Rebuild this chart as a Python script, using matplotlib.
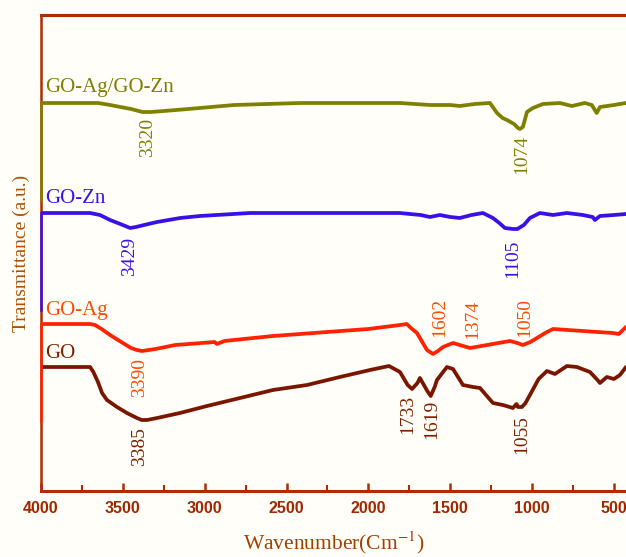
import matplotlib
matplotlib.use("Agg")
import matplotlib.pyplot as plt
from matplotlib.ticker import MultipleLocator

# ---- data (wavenumber cm^-1, transmittance a.u. with vertical offsets) ----
go_wn = [4000, 3760, 3700, 3680, 3652, 3627, 3597, 3536, 3475, 3414, 3385, 3352, 3291,
         3151, 2986, 2784, 2583, 2375, 2174, 1990, 1874, 1807, 1760, 1733, 1700, 1685,
         1640, 1619, 1595, 1581, 1520, 1483, 1422, 1360, 1318, 1239, 1178, 1117, 1095,
         1086, 1062, 1040, 1013, 960, 909, 860, 787, 726, 646, 600, 585, 543, 500, 463,
         426]
go_t = [124, 124, 124, 119, 109, 98, 91, 84, 78, 73, 71, 71, 73,
        78, 85, 93, 101, 106, 114, 121, 125, 119, 106, 102, 108, 113,
        100, 95, 104, 111, 124, 122, 106, 104, 103, 88, 86, 83, 87,
        84, 84, 88, 96, 112, 120, 117, 125, 124, 119, 111, 108, 114, 112, 116,
        124]

goag_wn = [4000, 3700, 3670, 3630, 3578, 3500, 3450, 3414, 3383, 3300, 3180, 2940,
           2925, 2880, 2583, 2418, 2000, 1807, 1765, 1740, 1703, 1660, 1642, 1605,
           1575, 1544, 1483, 1379, 1275, 1135, 1090, 1056, 1010, 970, 920, 872, 780,
           689, 600, 506, 470, 426]
goag_t = [167, 167, 166, 162, 156, 148, 143, 141, 140, 142, 146, 149,
          147, 150, 155, 157, 162, 166, 167, 163, 158, 146, 141, 137,
          140, 144, 148, 143, 146, 150, 148, 146, 149, 153, 158, 162, 161,
          160, 159, 158, 157, 164]

gozn_wn = [4000, 3700, 3640, 3578, 3500, 3456, 3420, 3370, 3291, 3150, 3029, 2723,
           2000, 1807, 1746, 1680, 1624, 1563, 1500, 1441, 1370, 1300, 1239, 1200,
           1166, 1117, 1090, 1050, 1013, 952, 872, 787, 689, 630, 616, 585, 500, 426]
gozn_t = [278, 278, 276, 271, 266, 263, 264, 266, 269, 273, 275, 278,
          278, 278, 277, 276, 274, 276, 274, 273, 276, 278, 273, 268,
          263, 262, 262, 266, 273, 278, 276, 278, 276, 274, 271, 275, 276, 277]

mix_wn = [4000, 3650, 3578, 3450, 3380, 3330, 3250, 3100, 2820, 2418, 1807, 1624,
          1500, 1441, 1350, 1257, 1214, 1180, 1153, 1110, 1086, 1074, 1056, 1031,
          995, 934, 830, 757, 677, 635, 605, 585, 500, 426]
mix_t = [388, 388, 386, 382, 379, 379, 380, 382, 386, 388, 388, 386,
         386, 385, 387, 388, 378, 373, 371, 367, 363, 362, 364, 379,
         383, 387, 388, 385, 388, 386, 378, 384, 386, 388]

series_names = ["GO-Ag/GO-Zn", "GO-Zn", "GO-Ag", "GO"]
series_wn = [mix_wn, gozn_wn, goag_wn, go_wn]
series_t = [mix_t, gozn_t, goag_t, go_t]
line_colors = ["#808000", "#3a10e6", "#ff2200", "#7a1500"]
text_colors = ["#7f7f00", "#3a10e6", "#ff4a00", "#7a2200"]
name_pos_t = [399, 288, 176, 133]

# peak annotations: (series index, label, wavenumber, top-of-text y)
peak_series = [0, 0, 1, 1, 2, 2, 2, 2, 3, 3, 3, 3]
peak_labels = ["3320", "1074", "3429", "1105", "3390", "1602", "1374", "1050",
               "3385", "1733", "1619", "1055"]
peak_wn = [3352, 1062, 3456, 1117, 3395, 1563, 1361, 1043, 3395, 1758, 1611, 1062]
peak_top = [373, 356, 254, 251, 133, 193, 191, 193, 64, 96, 91, 76]

xticks = [4000, 3500, 3000, 2500, 2000, 1500, 1000, 500]

# ---- figure ----
axis_color = "#b02c00"
bg = "#fffef8"
plt.rcParams["mathtext.fontset"] = "stix"
fig = plt.figure(figsize=(6.26, 5.57), dpi=100, facecolor=bg)
ax = fig.add_axes([41 / 626, 66 / 557, 1 - 41 / 626, 476 / 557])
ax.set_facecolor(bg)

for wn, t, c in zip(series_wn, series_t, line_colors):
    ax.plot(wn, t, color=c, lw=2.7, solid_joinstyle="round", solid_capstyle="round",
            zorder=3)

# coloured segments on the left axis line below each curve's start
for wn, t, c in zip(series_wn[:3], series_t[:3], line_colors[:3]):
    ax.plot([4000, 4000], [t[0], t[0] - 97], color=c, lw=1.8, zorder=4, clip_on=False)

serif = ["Liberation Serif", "DejaVu Serif"]
for name, yv, c in zip(series_names, name_pos_t, text_colors):
    ax.text(3975, yv, name, color=c, fontsize=15, family=serif, ha="left", va="baseline")

for si, lab, wn, top in zip(peak_series, peak_labels, peak_wn, peak_top):
    ax.text(wn, top, lab, color=text_colors[si], fontsize=14, family=serif,
            rotation=90, ha="center", va="top")

ax.set_xlim(4000, 426)
ax.set_ylim(0, 476)
ax.set_xticks(xticks)
ax.xaxis.set_minor_locator(MultipleLocator(250))
ax.set_yticks([])

for s in ["top", "bottom", "left"]:
    ax.spines[s].set_color(axis_color)
ax.spines["top"].set_linewidth(2.2)
ax.spines["bottom"].set_linewidth(2.2)
ax.spines["left"].set_linewidth(1.8)
ax.spines["right"].set_visible(False)

ax.tick_params(axis="x", which="major", direction="in", length=6, width=1.8,
               color=axis_color, labelcolor="#a02800", pad=7)
ax.tick_params(axis="x", which="minor", direction="in", length=4, width=1.5,
               color=axis_color)
for lbl in ax.get_xticklabels():
    lbl.set_fontweight("bold")
    lbl.set_fontsize(11.5)
    lbl.set_family(["Liberation Sans", "DejaVu Sans"])

ax.set_xlabel("Wavenumber(Cm$^{-1}$)", color="#a04000", fontsize=15.5, family=serif,
              labelpad=10)
ax.set_ylabel("Transmittance (a.u.)", color="#b05000", fontsize=14, family=serif,
              labelpad=8)

fig.savefig("out.png", dpi=100, facecolor=bg)
